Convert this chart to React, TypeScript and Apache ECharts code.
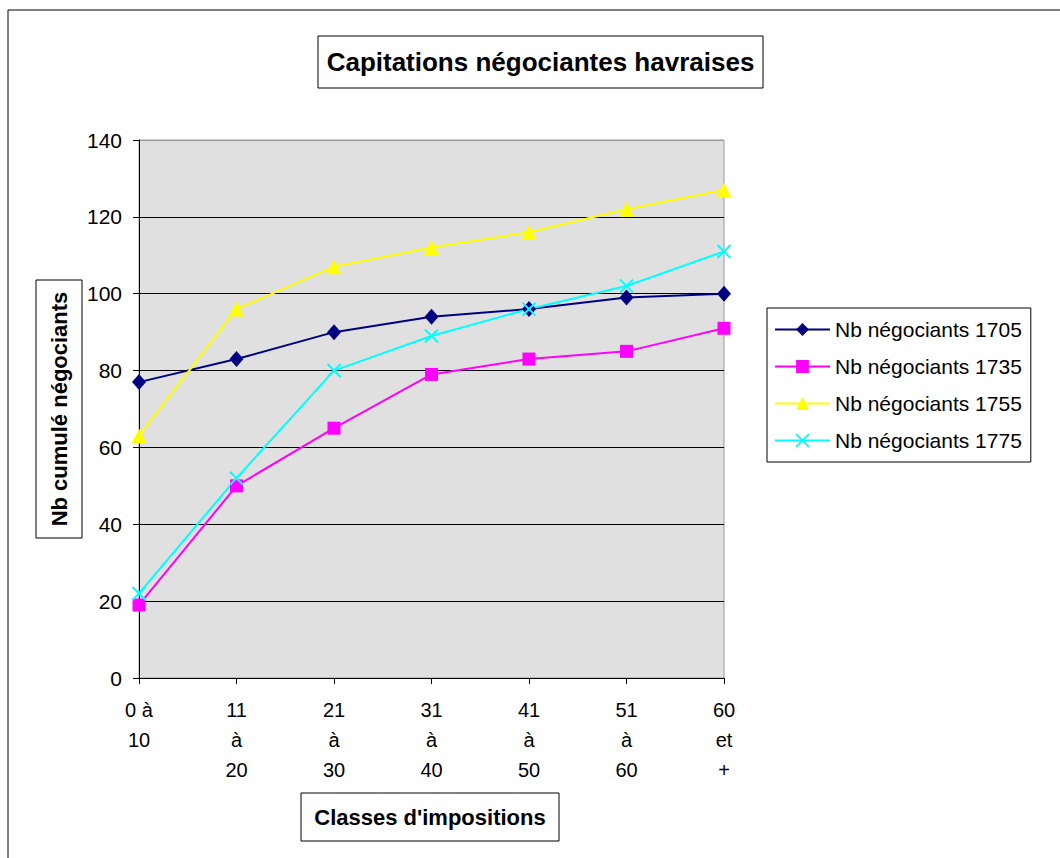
import React, { useEffect, useRef } from "react";
import * as echarts from "echarts";

const categories = ["0 à\n10", "11\nà\n20", "21\nà\n30", "31\nà\n40", "41\nà\n50", "51\nà\n60", "60\net\n+"];
const s1705 = [77, 83, 90, 94, 96, 99, 100];
const s1735 = [19, 50, 65, 79, 83, 85, 91];
const s1755 = [63, 96, 107, 112, 116, 122, 127];
const s1775 = [22, 52, 80, 89, 96, 102, 111];
const seriesNames = ["Nb négociants 1705", "Nb négociants 1735", "Nb négociants 1755", "Nb négociants 1775"];
const chartTitle = "Capitations négociantes havraises";
const xTitle = "Classes d'impositions";
const yTitle = "Nb cumulé négociants";

const FONT = "'Liberation Sans', Arial, sans-serif";

export default function App() {
  const ref = useRef<HTMLDivElement>(null);
  useEffect(() => {
    if (!ref.current) return;
    const chart = echarts.init(ref.current, null, { renderer: "svg" });
    const mk = (name: string, data: number[], color: string, symbol: string, size: any, extra: any = {}) => ({
      name,
      type: "line",
      data,
      symbol,
      symbolSize: size,
      lineStyle: { color, width: 2 },
      itemStyle: { color, ...extra },
      z: 3,
    });
    chart.setOption({
      animation: false,
      backgroundColor: "#fff",
      textStyle: { fontFamily: FONT },
      grid: {
        left: 139,
        right: 1060 - 724,
        top: 140,
        bottom: 858 - 678,
        show: true,
        backgroundColor: "#E0E0E0",
        borderColor: "#9a9a9a",
        borderWidth: 1,
      },
      xAxis: {
        type: "category",
        data: categories,
        boundaryGap: false,
        axisLine: { lineStyle: { color: "#000", width: 1 } },
        axisTick: { show: true, length: 6, lineStyle: { color: "#000" } },
        axisLabel: { color: "#000", fontSize: 20, fontFamily: FONT, lineHeight: 30, margin: 17, interval: 0 },
        splitLine: { show: false },
      },
      yAxis: {
        type: "value",
        min: 0,
        max: 140,
        interval: 20,
        axisLine: { show: true, lineStyle: { color: "#000", width: 1 } },
        axisTick: { show: true, length: 6, lineStyle: { color: "#000" } },
        axisLabel: { color: "#000", fontSize: 21, fontFamily: FONT, margin: 17 },
        splitLine: {
          show: true,
          lineStyle: { color: ["#000", "#000", "#000", "#000", "#000", "#000", "#000", "#9a9a9a"], width: 1 },
        },
      },
      legend: {
        orient: "vertical",
        left: 767,
        top: 308,
        padding: [11, 9, 11, 7],
        itemWidth: 55,
        itemHeight: 16,
        itemGap: 16,
        borderColor: "#000",
        borderWidth: 1,
        selectedMode: false,
        textStyle: { color: "#000", fontSize: 21, fontFamily: FONT },
        data: seriesNames,
      },
      series: [
        mk(seriesNames[0], s1705, "#000080", "diamond", [14, 16]),
        mk(seriesNames[1], s1735, "#FF00FF", "rect", 13),
        mk(seriesNames[2], s1755, "#FFFF00", "triangle", 15),
        mk(seriesNames[3], s1775, "#00FFFF", "path://M0,0L10,10M10,0L0,10", 13, {
          borderColor: "#00FFFF",
          borderWidth: 2,
        }),
      ],
      graphic: [
        {
          type: "rect",
          shape: { x: 8, y: 10, width: 1100, height: 900 },
          style: { fill: "none", stroke: "#000", lineWidth: 1 },
          silent: true,
          z: -10,
        },
        {
          type: "group",
          children: [
            {
              type: "rect",
              shape: { x: 318, y: 36, width: 445, height: 52 },
              style: { fill: "#fff", stroke: "#000", lineWidth: 1 },
            },
            {
              type: "text",
              x: 540.5,
              y: 62,
              style: {
                text: chartTitle,
                font: `bold 26px ${FONT}`,
                fill: "#000",
                textAlign: "center",
                textVerticalAlign: "middle",
              },
            },
          ],
        },
        {
          type: "group",
          children: [
            {
              type: "rect",
              shape: { x: 301, y: 793, width: 258, height: 48 },
              style: { fill: "#fff", stroke: "#000", lineWidth: 1 },
            },
            {
              type: "text",
              x: 430,
              y: 817,
              style: {
                text: xTitle,
                font: `bold 22px ${FONT}`,
                fill: "#000",
                textAlign: "center",
                textVerticalAlign: "middle",
              },
            },
          ],
        },
        {
          type: "group",
          children: [
            {
              type: "rect",
              shape: { x: 36, y: 280, width: 46, height: 258 },
              style: { fill: "#fff", stroke: "#000", lineWidth: 1 },
            },
            {
              type: "text",
              x: 59,
              y: 409,
              rotation: Math.PI / 2,
              style: {
                text: yTitle,
                font: `bold 22px ${FONT}`,
                fill: "#000",
                textAlign: "center",
                textVerticalAlign: "middle",
              },
            },
          ],
        },
      ],
    });
    return () => chart.dispose();
  }, []);
  return <div ref={ref} style={{ position: "fixed", left: 0, top: 0, width: 1060, height: 858 }} />;
}
